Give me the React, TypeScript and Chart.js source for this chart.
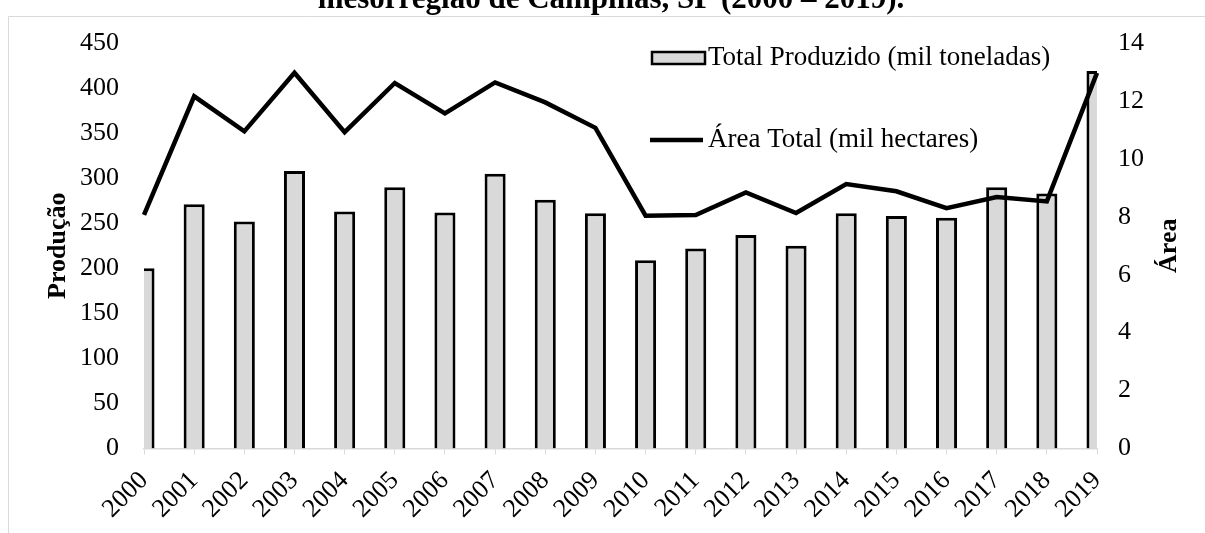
import React, { useEffect, useRef } from "react";
import { Chart, registerables } from "chart.js";

Chart.register(...registerables);

const years = ["2000", "2001", "2002", "2003", "2004", "2005", "2006", "2007", "2008", "2009", "2010", "2011", "2012", "2013", "2014", "2015", "2016", "2017", "2018", "2019"];
const producao = [200, 271, 252, 308, 263, 290, 262, 305, 276, 261, 209, 222, 237, 225, 261, 258, 256, 290, 283, 419];
const area = [8.07, 12.16, 10.95, 12.97, 10.92, 12.62, 11.57, 12.64, 11.95, 11.07, 8.04, 8.06, 8.84, 8.13, 9.13, 8.88, 8.3, 8.68, 8.53, 12.97];
const leftAxis = { min: 0, max: 450, step: 50 };
const rightAxis = { min: 0, max: 14, step: 2 };
const titleText = "mesorregião de Campinas, SP (2000 – 2019).";
const barLabel = "Total Produzido (mil toneladas)";
const lineLabel = "Área Total (mil hectares)";
const leftTitle = "Produção";
const rightTitle = "Área";

const FONT = "'Liberation Serif', 'Times New Roman', serif";

const decor = {
  id: "decor",
  afterDraw(chart: any) {
    const ctx = chart.ctx as CanvasRenderingContext2D;
    const ca = chart.chartArea;
    ctx.save();
    // frame
    ctx.strokeStyle = "#d9d9d9";
    ctx.lineWidth = 1;
    ctx.beginPath();
    ctx.moveTo(8.5, 533);
    ctx.lineTo(8.5, 16.5);
    ctx.lineTo(1205, 16.5);
    ctx.stroke();
    // title
    ctx.fillStyle = "#000";
    ctx.font = `bold 31px ${FONT}`;
    ctx.textAlign = "center";
    ctx.textBaseline = "alphabetic";
    ctx.fillText(titleText, 611, 8);
    // axis titles
    const midY = (ca.top + ca.bottom) / 2;
    ctx.font = `bold 26px ${FONT}`;
    ctx.textBaseline = "middle";
    ctx.save();
    ctx.translate(58, midY);
    ctx.rotate(-Math.PI / 2);
    ctx.fillText(leftTitle, 0, 0);
    ctx.restore();
    ctx.save();
    ctx.translate(1169, midY);
    ctx.rotate(-Math.PI / 2);
    ctx.fillText(rightTitle, 0, 0);
    ctx.restore();
    // legend
    ctx.font = `27px ${FONT}`;
    ctx.textAlign = "left";
    ctx.textBaseline = "middle";
    ctx.fillStyle = "#d9d9d9";
    ctx.fillRect(652, 52, 53, 12);
    ctx.strokeStyle = "#000";
    ctx.lineWidth = 2.5;
    ctx.strokeRect(652, 52, 53, 12);
    ctx.fillStyle = "#000";
    ctx.fillText(barLabel, 708, 58);
    ctx.beginPath();
    ctx.lineWidth = 4.5;
    ctx.moveTo(650, 140);
    ctx.lineTo(703, 140);
    ctx.stroke();
    ctx.fillText(lineLabel, 708, 140);
    ctx.restore();
  },
};

export default function App() {
  const ref = useRef<HTMLCanvasElement | null>(null);
  useEffect(() => {
    if (!ref.current) return;
    const chart = new Chart(ref.current, {
      type: "bar",
      data: {
        labels: years,
        datasets: [
          {
            type: "line",
            label: lineLabel,
            data: area,
            yAxisID: "y1",
            borderColor: "#000",
            borderWidth: 4.5,
            pointRadius: 0,
            borderJoinStyle: "miter",
            tension: 0,
            fill: false,
            order: 0,
          } as any,
          {
            type: "bar",
            label: barLabel,
            data: producao,
            yAxisID: "y",
            backgroundColor: "#d9d9d9",
            borderColor: "#000",
            borderWidth: 3,
            categoryPercentage: 1,
            barPercentage: 0.42,
            clip: 0,
            order: 1,
          } as any,
        ],
      },
      options: {
        responsive: false,
        animation: false,
        layout: { padding: { top: 43, left: 0, right: 0, bottom: 0 } },
        plugins: {
          legend: { display: false },
          title: { display: false },
          tooltip: { enabled: false },
        },
        scales: {
          x: {
            type: "category",
            offset: false,
            grid: { display: true, drawOnChartArea: false, drawTicks: true, tickLength: 6, color: "#d9d9d9", offset: false },
            border: { display: true, color: "#d9d9d9", width: 1.5 },
            ticks: { color: "#000", font: { family: FONT, size: 26 }, maxRotation: 45, minRotation: 45, autoSkip: false, padding: 11 },
            afterFit: (s: any) => { s.height = 84.5; },
          },
          y: {
            position: "left",
            min: leftAxis.min,
            max: leftAxis.max,
            grid: { display: false, drawTicks: false },
            border: { display: false },
            ticks: { stepSize: leftAxis.step, padding: 25, color: "#000", font: { family: FONT, size: 26 } },
            afterFit: (s: any) => { s.width = 144; },
          },
          y1: {
            position: "right",
            min: rightAxis.min,
            max: rightAxis.max,
            grid: { display: false, drawTicks: false },
            border: { display: false },
            ticks: { stepSize: rightAxis.step, padding: 21, color: "#000", font: { family: FONT, size: 26 } },
            afterFit: (s: any) => { s.width = 108; },
          },
        },
      } as any,
      plugins: [decor],
    });
    return () => chart.destroy();
  }, []);
  return (
    <div style={{ position: "absolute", left: 0, top: 0, width: 1205, height: 533, overflow: "hidden", background: "#fff" }}>
      <canvas ref={ref} width={1205} height={533} style={{ display: "block" }} />
    </div>
  );
}
